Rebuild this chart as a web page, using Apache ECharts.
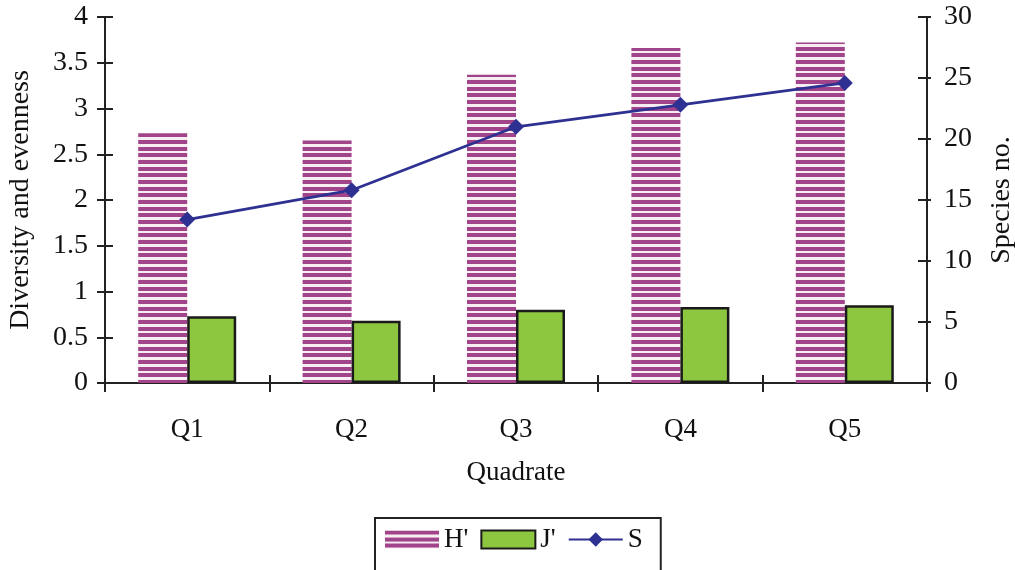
<!DOCTYPE html>
<html>
<head>
<meta charset="utf-8">
<script src="https://cdn.jsdelivr.net/npm/echarts@6/dist/echarts.min.js"></script>
<style>
  html, body { margin: 0; padding: 0; background: #fff; }
  #chart { width: 1015px; height: 570px; }
</style>
</head>
<body>
<div id="chart"></div>
<script>
// Quadrate survey: diversity (H'), evenness (J') and species number (S)
const categories = ['Q1', 'Q2', 'Q3', 'Q4', 'Q5'];
const diversityH = [2.73, 2.65, 3.37, 3.66, 3.72];
const evennessJ = [0.73, 0.68, 0.80, 0.83, 0.85];
const speciesS = [13.4, 15.8, 21.0, 22.8, 24.6];
const leftTicks = { min: 0, max: 4, interval: 0.5 };
const rightTicks = { min: 0, max: 30, interval: 5 };

const FONT = 'Liberation Serif';

// Horizontal stripe fill for the H' bars
function stripePattern() {
  const c = document.createElement('canvas');
  c.width = 20; c.height = 20;
  const g = c.getContext('2d');
  g.fillStyle = '#f7eef4';
  g.fillRect(0, 0, 20, 20);
  g.fillStyle = '#a2448a';
  g.fillRect(0, 0, 20, 4);
  g.fillRect(0, 7, 20, 4);
  g.fillRect(0, 13, 20, 4);
  return { image: c, repeat: 'repeat' };
}

const axisColor = '#222';
const txt = (size) => ({ fontFamily: FONT, fontSize: size, color: '#111' });

const chart = echarts.init(document.getElementById('chart'), null, { renderer: 'canvas' });

chart.setOption({
  animation: false,
  backgroundColor: '#fff',
  grid: { left: 105, right: 88, top: 17, bottom: 187, containLabel: false, outerBoundsMode: 'none' },
  legend: {
    left: 375,
    top: 518,
    padding: [8, 18, 30, 10],
    borderColor: axisColor,
    borderWidth: 2,
    itemWidth: 54,
    itemHeight: 18,
    itemGap: 12,
    textStyle: txt(27),
    data: [
      { name: "H'", icon: 'rect' },
      { name: "J'", icon: 'rect' },
      { name: 'S' }
    ]
  },
  xAxis: [
    {
      type: 'category',
      data: categories,
      axisLine: { lineStyle: { color: axisColor, width: 2 } },
      axisTick: { show: true, alignWithLabel: false, length: 9, lineStyle: { color: axisColor, width: 2 } },
      axisLabel: Object.assign(txt(27), { margin: 33 }),
      name: 'Quadrate',
      nameLocation: 'middle',
      nameGap: 76,
      nameTextStyle: txt(27)
    },
    {
      type: 'category',
      data: categories,
      position: 'bottom',
      axisLine: { show: false },
      axisTick: { show: true, inside: true, length: 8, lineStyle: { color: axisColor, width: 2 } },
      axisLabel: { show: false }
    }
  ],
  yAxis: [
    {
      type: 'value',
      position: 'left',
      min: leftTicks.min, max: leftTicks.max, interval: leftTicks.interval,
      axisLine: { show: true, lineStyle: { color: axisColor, width: 2 } },
      axisTick: { show: true, length: 8, lineStyle: { color: axisColor, width: 2 } },
      axisLabel: Object.assign(txt(28), { margin: 17 }),
      splitLine: { show: false },
      name: 'Diversity and evenness',
      nameLocation: 'middle',
      nameGap: 70,
      nameRotate: 90,
      nameTextStyle: txt(28)
    },
    {
      type: 'value',
      position: 'right',
      min: rightTicks.min, max: rightTicks.max, interval: rightTicks.interval,
      axisLine: { show: true, lineStyle: { color: axisColor, width: 2 } },
      axisTick: { show: true, length: 4, lineStyle: { color: axisColor, width: 2 } },
      axisLabel: Object.assign(txt(28), { margin: 17 }),
      splitLine: { show: false },
      name: 'Species no.',
      nameLocation: 'middle',
      nameGap: 61,
      nameRotate: 90,
      nameTextStyle: txt(28)
    },
    {
      type: 'value',
      position: 'left',
      min: leftTicks.min, max: leftTicks.max, interval: leftTicks.interval,
      axisLine: { show: false },
      axisTick: { show: true, inside: true, length: 8, lineStyle: { color: axisColor, width: 2 } },
      axisLabel: { show: false },
      splitLine: { show: false }
    },
    {
      type: 'value',
      position: 'right',
      min: rightTicks.min, max: rightTicks.max, interval: rightTicks.interval,
      axisLine: { show: false },
      axisTick: { show: true, inside: true, length: 9, lineStyle: { color: axisColor, width: 2 } },
      axisLabel: { show: false },
      splitLine: { show: false }
    }
  ],
  series: [
    {
      name: "H'",
      type: 'bar',
      yAxisIndex: 0,
      data: diversityH,
      barWidth: 49,
      barGap: '0%',
      itemStyle: { color: stripePattern() }
    },
    {
      name: "J'",
      type: 'bar',
      yAxisIndex: 0,
      data: evennessJ,
      barWidth: 49,
      barGap: '0%',
      itemStyle: { color: '#8dc63f', borderColor: '#1a1a1a', borderWidth: 2.5 }
    },
    {
      name: 'S',
      type: 'line',
      yAxisIndex: 1,
      data: speciesS,
      symbol: 'diamond',
      symbolSize: 16,
      lineStyle: { color: '#2e3192', width: 2.8 },
      itemStyle: { color: '#2e3192' }
    }
  ]
});
</script>
</body>
</html>
